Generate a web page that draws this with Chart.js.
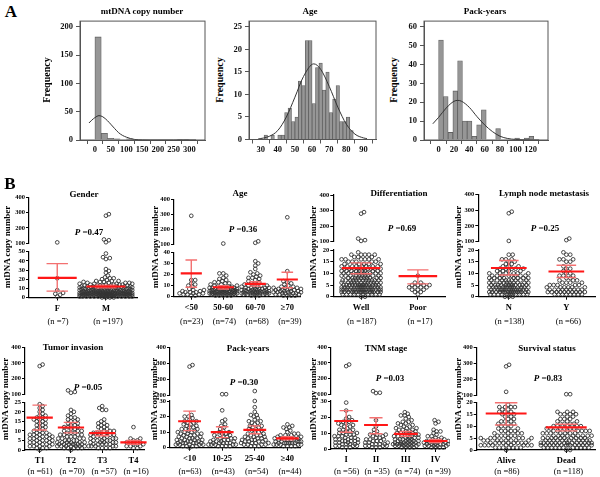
<!DOCTYPE html>
<html>
<head>
<meta charset="utf-8">
<script src="https://cdn.jsdelivr.net/npm/chart.js@4/dist/chart.umd.min.js"></script>
<style>
body { margin: 0; width: 600px; height: 477px; position: relative; background: #fff; overflow: hidden; font-family: "Liberation Serif", "Times New Roman", serif; }
canvas { position: absolute; }
.t { position: absolute; white-space: nowrap; color: #000; transform: translate(-50%, -50%); line-height: 1; }
.b { font-weight: bold; }
.rot { transform: translate(-50%, -50%) rotate(-90deg); }
</style>
</head>
<body>
<script>
// ---- panel A: histograms ----
const mt_bin_start = [0, 20, 40, 60, 80, 100, 120, 140, 160, 180, 200, 220, 240, 260, 280];
const mt_counts = [182, 12, 3, 2, 0, 2, 1, 0, 0, 0, 0, 0, 0, 1, 1];
const mt_curve_x = [-19, -10, 0, 13, 25, 40, 50, 63, 75, 88, 100, 113, 126, 150, 175, 200, 250, 321];
const mt_curve_y = [30, 35, 39.5, 43, 41, 34, 28, 20, 13, 8, 5, 2.5, 1, 0.2, 0, 0, 0, 0];
const mt_x_ticks = [0, 50, 100, 150, 200, 250, 300];
const mt_y_ticks = [0, 50, 100, 150, 200];

const age_bin_start = [32, 34, 36, 38, 40, 42, 44, 46, 48, 50, 52, 54, 56, 58, 60, 62, 64, 66, 68, 70, 72, 74, 76, 78, 80, 82];
const age_counts = [1, 0, 1, 0, 1, 1, 6, 7, 4, 5, 13, 12, 22, 22, 8, 16, 17, 11, 15, 6, 9, 12, 4, 4, 5, 2];
const age_curve_x = [28.5, 35, 40, 45, 50, 55, 61, 65, 70, 75, 80, 85, 90, 92];
const age_curve_y = [0.1, 0.7, 2, 5, 9.4, 14, 16.8, 15.6, 11.8, 7.2, 3.4, 1.2, 0.35, 0.2];
const age_x_ticks = [30, 40, 50, 60, 70, 80, 90];
const age_y_ticks = [0, 5, 10, 15, 20, 25];

const pack_bin_start = [0, 6.2, 12.4, 18.6, 24.8, 31, 37.2, 43.4, 49.6, 55.8, 62, 68.2, 74.4, 80.6, 86.8, 93, 99.2, 105.4, 111.6, 117.8];
const pack_counts = [53, 23, 4, 26, 42, 10, 10, 2, 8, 16, 0, 0, 6, 0, 0, 0, 1, 0, 1, 2];
const pack_curve_x = [-7.5, 0, 10, 20, 25, 30, 40, 50, 60, 70, 80, 90, 100, 110, 131];
const pack_curve_y = [8.6, 12, 17, 20.5, 21, 20.5, 17.3, 12.4, 8, 4.5, 2, 0.8, 0.3, 0.1, 0];
const pack_x_ticks = [0, 20, 40, 60, 80, 100, 120];
const pack_y_ticks = [0, 10, 20, 30, 40, 50, 60];

// ---- panel B: dot plots (single values, or [value, count]) ----
const upper_ticks = [100, 200, 300, 400];

const gender_groups = ['F', 'M'];
const gender_n = ['(n =7)', '(n =197)'];
const gender_mean = [21.5, 12];
const gender_ci_low = [7, 10.5];
const gender_ci_high = [37, 13.5];
const gender_low_ticks = [0, 10, 20, 30, 40, 50];
const gender_dots = [
    [106, 21, 8, 5, 4, 3, 1],
    [290, 280, 125, 120, 107, 48, 44, 43, 42, 31, 29, 27, 24, 22, 21, 21, 20, 19, [18, 3], [17, 3], [16, 4], [15, 4], [14, 5], [13, 6], [12, 7], [11, 7], [10, 8], [9, 9], [8, 10], [7, 11], [6, 12], [5, 16], [4, 18], [3, 20], [2, 18], [1, 14], [0, 4]]
];

const age_groups = ['<50', '50-60', '60-70', '\u226570'];
const age_n = ['(n=23)', '(n=74)', '(n=68)', '(n=39)'];
const age_mean = [21, 8.5, 11.5, 15.5];
const age_ci_low = [8.5, 7, 9.5, 8];
const age_ci_high = [33, 9.8, 13.5, 22];
const age_low_ticks = [0, 10, 20, 30, 40];
const age_dots = [
    [290, 15, 15, 12, 11, 10, 9, 7, 6, 6, 5, 5, 4, 4, 4, 3, 3, 3, 2, 2, 2, 1, 1],
    [105, 21, 21, 19, 17, 16, 15, 14, 13, 13, 12, 12, 11, 11, 10, 10, [9, 4], [8, 5], [7, 6], [6, 6], [5, 7], [4, 8], [3, 9], [2, 8], [1, 5]],
    [120, 110, 32, 30, 28, 25, 22, 21, 20, 19, 18, 17, 17, 16, 15, 14, 13, 12, 12, 11, [10, 3], [9, 3], [8, 4], [7, 4], [6, 5], [5, 6], [4, 7], [3, 7], [2, 6], [1, 3]],
    [280, 23, 14, 13, 12, 11, 10, 9, 9, [8, 3], [7, 3], [6, 4], [5, 4], [4, 4], [3, 4], [2, 4], [1, 4]]
];

const diff_groups = ['Well', 'Poor'];
const diff_n = ['(n =187)', '(n =17)'];
const diff_mean = [12.2, 8.8];
const diff_ci_low = [9.8, 5.5];
const diff_ci_high = [14.5, 11.5];
const diff_low_ticks = [0, 5, 10, 15, 20];
const diff_dots = [
    [290, 280, 120, 110, 105, [19, 1], [18, 5], [17, 3], [16, 6], [15, 5], [14, 5], [13, 8], [12, 10], [11, 9], [10, 10], [9, 10], [8, 10], [7, 12], [6, 12], [5, 14], [4, 16], [3, 18], [2, 16], [1, 10], [0, 2]],
    [9, 6, 6, 5, 5, 5, 5, 4, 4, 4, 4, 3, 3, 3, 2, 2, 1]
];

const lymph_groups = ['N', 'Y'];
const lymph_n = ['(n =138)', '(n =66)'];
const lymph_mean = [12.3, 10.8];
const lymph_ci_low = [9.3, 8.2];
const lymph_ci_high = [15.5, 13.5];
const lymph_low_ticks = [0, 5, 10, 15, 20];
const lymph_dots = [
    [290, 280, 105, [18, 2], [16, 3], [15, 2], [14, 2], [13, 3], [12, 5], [11, 4], [10, 6], [9, 8], [8, 8], [7, 9], [6, 10], [5, 12], [4, 14], [3, 16], [2, 16], [1, 12], [0, 3]],
    [120, 110, 19, [18, 2], [16, 3], [15, 2], [13, 1], [12, 2], [11, 1], [10, 2], [9, 3], [8, 2], [7, 3], [6, 4], [5, 5], [4, 6], [3, 9], [2, 10], [1, 8]]
];

const tumor_groups = ['T1', 'T2', 'T3', 'T4'];
const tumor_n = ['(n =61)', '(n =70)', '(n =57)', '(n =16)'];
const tumor_mean = [17, 11.8, 8.8, 4];
const tumor_ci_low = [10.5, 9, 7.5, 3];
const tumor_ci_high = [23.5, 14.5, 10, 5];
const tumor_low_ticks = [0, 5, 10, 15, 20, 25];
const tumor_dots = [
    [290, 280, 24, 23, 22, 21, 20, 19, [18, 2], [17, 2], [16, 3], [15, 2], [14, 2], [13, 2], [12, 2], [11, 2], [10, 2], [9, 3], [8, 4], [7, 4], [6, 4], [5, 4], [4, 4], [3, 4], [2, 4], [1, 3], [0, 1]],
    [125, 115, 110, 21, 20, 19, 18, [17, 2], [16, 2], [15, 2], [14, 2], [13, 2], [12, 3], [11, 2], [10, 3], [9, 3], [8, 4], [7, 3], [6, 4], [5, 4], [4, 6], [3, 7], [2, 7], [1, 5], [0, 1]],
    [23, 22, 21, 21, 16, 15, [14, 2], [13, 2], [12, 2], [11, 2], [10, 3], [9, 4], [8, 4], [7, 4], [6, 4], [5, 5], [4, 5], [3, 5], [2, 5], [1, 4]],
    [12, 6, 6, 5, 5, 4, 4, 4, 3, 3, 3, 2, 2, 2, 1, 1]
];

const packy_groups = ['<10', '10-25', '25-40', '\u226540'];
const packy_n = ['(n=63)', '(n=43)', '(n=54)', '(n=44)'];
const packy_mean = [17, 10, 11.5, 6];
const packy_ci_low = [11, 6.5, 9, 5];
const packy_ci_high = [23.5, 13.5, 14, 7];
const packy_low_ticks = [0, 10, 20, 30];
const packy_dots = [
    [290, 280, 21, 20, 20, 19, 18, [17, 2], [16, 2], [15, 2], [14, 2], [13, 2], [12, 3], [11, 2], [10, 3], [9, 4], [8, 3], [7, 3], [6, 4], [5, 4], [4, 4], [3, 6], [2, 5], [1, 4], [0, 1]],
    [105, 105, 24, 18, 17, 15, 14, 13, [12, 1], [11, 1], [10, 2], [9, 2], [8, 2], [7, 3], [6, 3], [5, 3], [4, 4], [3, 5], [2, 5], [1, 4]],
    [125, 30, 26, 23, 21, 21, 20, 19, 18, [17, 2], [16, 2], [15, 1], [14, 2], [13, 2], [12, 2], [11, 2], [10, 2], [9, 2], [8, 3], [7, 3], [6, 3], [5, 4], [4, 4], [3, 4], [2, 4], [1, 3]],
    [15, 14, 13, 13, 12, 11, 10, [9, 2], [8, 3], [7, 3], [6, 4], [5, 4], [4, 5], [3, 7], [2, 5], [1, 4]]
];

const tnm_groups = ['I', 'II', 'III', 'IV'];
const tnm_n = ['(n =56)', '(n =35)', '(n =74)', '(n =39)'];
const tnm_mean = [17.5, 15, 9.5, 5];
const tnm_ci_low = [10.5, 9.5, 8, 4];
const tnm_ci_high = [24, 19.5, 11, 6];
const tnm_low_ticks = [0, 10, 20, 30];
const tnm_dots = [
    [290, 280, 29, 24, 20, 19, 18, [17, 2], [16, 2], [15, 2], [14, 2], [13, 1], [12, 3], [11, 2], [10, 3], [9, 3], [8, 3], [7, 3], [6, 4], [5, 4], [4, 4], [3, 4], [2, 4], [1, 3]],
    [120, 110, 108, 18, 14, 12, 11, 10, [9, 3], [8, 2], [7, 2], [6, 3], [5, 3], [4, 3], [3, 4], [2, 4], [1, 3]],
    [23, 22, 21, 21, 20, 19, 18, [17, 2], [16, 2], [15, 2], [14, 2], [13, 3], [12, 3], [11, 3], [10, 3], [9, 4], [8, 5], [7, 4], [6, 5], [5, 5], [4, 6], [3, 8], [2, 6], [1, 4]],
    [18, 17, 16, 12, 11, 11, 10, 9, [8, 2], [7, 2], [6, 3], [5, 4], [4, 5], [3, 6], [2, 5], [1, 4]]
];

const surv_groups = ['Alive', 'Dead'];
const surv_n = ['(n =86)', '(n =118)'];
const surv_mean = [15.3, 9.5];
const surv_ci_low = [10.5, 8];
const surv_ci_high = [19.8, 10.8];
const surv_low_ticks = [0, 5, 10, 15, 20];
const surv_dots = [
    [290, 280, 120, [19, 1], [18, 4], [17, 2], [16, 3], [15, 3], [14, 2], [13, 2], [12, 3], [11, 3], [10, 3], [9, 3], [8, 4], [7, 4], [6, 5], [5, 7], [4, 8], [3, 9], [2, 9], [1, 7], [0, 1]],
    [105, 105, [16, 3], [15, 4], [14, 2], [13, 3], [12, 3], [11, 4], [10, 5], [9, 6], [8, 7], [7, 7], [6, 9], [5, 10], [4, 12], [3, 14], [2, 14], [1, 11], [0, 2]]
];

// ---- layout (pixels) ----
const hist_layout = {
    mt:   {left: 80,  top: 19, right: 205, bottom: 140,   x_min: -19,  x_max: 321, y_max: 210},
    age:  {left: 249, top: 19, right: 376, bottom: 139.5, x_min: 28.5, x_max: 92,  y_max: 26.3},
    pack: {left: 424, top: 19, right: 548, bottom: 140,   x_min: -7.5, x_max: 131, y_max: 63}
};

const dot_layout = {
    gender: {axis_x: 29,    right: 140, y400: 197.3, y100: 243.3, low_top: 251.7, y0: 297.5, x_min: -0.58, x_max: 1.64, half: 0.4,  spread: 27, n_y: 321},
    age:    {axis_x: 174,   right: 303, y400: 199.3, y100: 244.3, low_top: 252.3, y0: 296.7, x_min: -0.54, x_max: 3.4,  half: 0.33, spread: 14, n_y: 321},
    diff:   {axis_x: 333.3, right: 448, y400: 195,   y100: 241.7, low_top: 250,   y0: 296.7, x_min: -0.49, x_max: 1.48, half: 0.34, spread: 20, n_y: 321},
    lymph:  {axis_x: 478.3, right: 598, y400: 194.3, y100: 241.7, low_top: 250,   y0: 296.7, x_min: -0.53, x_max: 1.5,  half: 0.31, spread: 20, n_y: 321},
    tumor:  {axis_x: 25,    right: 147, y400: 347.3, y100: 394.3, low_top: 402.3, y0: 450,   x_min: -0.47, x_max: 3.34, half: 0.42, spread: 14, n_y: 471},
    packy:  {axis_x: 170,   right: 303, y400: 347.7, y100: 395,   low_top: 401,   y0: 447.7, x_min: -0.6,  x_max: 3.39, half: 0.35, spread: 14, n_y: 471},
    tnm:    {axis_x: 331,   right: 448, y400: 347.3, y100: 394.3, low_top: 401,   y0: 449,   x_min: -0.51, x_max: 3.32, half: 0.4,  spread: 13, n_y: 471},
    surv:   {axis_x: 476.7, right: 598, y400: 347.3, y100: 395,   low_top: 402.3, y0: 450,   x_min: -0.49, x_max: 1.48, half: 0.34, spread: 26, n_y: 471}
};

Chart.defaults.font.family = '"Liberation Serif", "Times New Roman", serif';
Chart.defaults.color = '#000';

function make_canvas(left, top, width, height) {
    const c = document.createElement('canvas');
    c.style.left = left + 'px';
    c.style.top = top + 'px';
    c.width = width;
    c.height = height;
    c.style.width = width + 'px';
    c.style.height = height + 'px';
    document.body.appendChild(c);
    return c;
}

function text(html, x, y, size, cls) {
    const d = document.createElement('div');
    d.className = 't ' + (cls || '');
    d.style.left = x + 'px';
    d.style.top = y + 'px';
    d.style.fontSize = size + 'px';
    d.innerHTML = html;
    document.body.appendChild(d);
}

function expand(spec) {
    const out = [];
    spec.forEach(s => {
        if (Array.isArray(s)) { for (let i = 0; i < s[1]; i++) out.push(s[0]); }
        else out.push(s);
    });
    return out;
}

// simple beeswarm: offsets in pixels, values kept as they are
function swarm(values, y_scale, spread) {
    const placed = [];
    const min_d = 3.2, step = 1.0;
    return values.slice().sort((a, b) => a - b).map(v => {
        const py = v * y_scale;
        let best = 0, best_d = -1;
        for (let k = 0; k * step <= spread && best_d < min_d; k++) {
            const cand = k === 0 ? [0] : [k * step, -k * step];
            for (const px of cand) {
                let d = Infinity;
                placed.forEach(p => {
                    if (Math.abs(p.y - py) < min_d) d = Math.min(d, Math.hypot(p.x - px, p.y - py));
                });
                if (d > best_d) { best_d = d; best = px; }
                if (d >= min_d) break;
            }
        }
        placed.push({x: best, y: py});
        return {off: best, v: v};
    });
}

const frame_plugin = {
    id: 'frame',
    afterDraw(chart) {
        const a = chart.chartArea, ctx = chart.ctx;
        ctx.save();
        ctx.strokeStyle = '#555';
        ctx.lineWidth = 1;
        ctx.strokeRect(a.left, a.top, a.right - a.left, a.bottom - a.top);
        ctx.restore();
    }
};

function hist_chart(L, bin_start, counts, curve_x, curve_y, x_ticks, y_ticks) {
    const yW = 22, xH = 16;
    const cl = Math.floor(L.left - yW - 2), ct = Math.floor(L.top - 6);
    const cw = Math.ceil(L.right + 4 - cl), ch = Math.ceil(L.bottom + xH + 2 - ct);
    const w = bin_start[1] - bin_start[0];
    new Chart(make_canvas(cl, ct, cw, ch), {
        type: 'bar',
        data: {
            datasets: [{
                type: 'line',
                data: curve_x.map((x, i) => ({x: x, y: curve_y[i]})),
                borderColor: '#333', borderWidth: 1, pointRadius: 0,
                cubicInterpolationMode: 'monotone', clip: false
            }, {
                type: 'bar',
                data: bin_start.map((b, i) => ({x: b + w / 2, y: counts[i]})),
                backgroundColor: '#969696', borderColor: '#606060', borderWidth: 0.8,
                barPercentage: 1, categoryPercentage: 1
            }]
        },
        options: {
            responsive: false, animation: false, devicePixelRatio: 1,
            layout: {padding: {left: L.left - yW - cl, top: L.top - ct, right: cl + cw - L.right, bottom: ct + ch - L.bottom - xH}},
            plugins: {legend: {display: false}, tooltip: {enabled: false}},
            scales: {
                x: {
                    type: 'linear', min: L.x_min, max: L.x_max,
                    afterBuildTicks: s => { s.ticks = x_ticks.map(v => ({value: v})); },
                    afterFit: s => { s.height = xH; s.paddingLeft = 0; s.paddingRight = 0; },
                    grid: {drawOnChartArea: false, tickLength: 4, color: '#555'},
                    border: {color: '#555'},
                    ticks: {font: {size: 8.5, weight: 'bold'}, color: '#111', padding: 1, maxRotation: 0, autoSkip: false}
                },
                y: {
                    type: 'linear', min: 0, max: L.y_max,
                    afterBuildTicks: s => { s.ticks = y_ticks.map(v => ({value: v})); },
                    afterFit: s => { s.width = yW; },
                    grid: {drawOnChartArea: false, tickLength: 4, color: '#555'},
                    border: {color: '#555'},
                    ticks: {font: {size: 8.5, weight: 'bold'}, color: '#111', padding: 3, autoSkip: false}
                }
            }
        },
        plugins: [frame_plugin]
    });
}

function dot_options(L, y_min, y_max, y_ticks, show_x, groups, pad) {
    return {
        responsive: false, animation: false, devicePixelRatio: 1,
        layout: {padding: pad},
        plugins: {legend: {display: false}, tooltip: {enabled: false}},
        scales: {
            x: {
                type: 'linear', min: L.x_min, max: L.x_max, display: show_x,
                afterBuildTicks: s => { s.ticks = groups.map((g, i) => ({value: i})); },
                afterFit: s => { s.height = show_x ? 14 : 0; s.paddingLeft = 0; s.paddingRight = 0; },
                grid: {drawOnChartArea: false, tickLength: 3, color: '#000'},
                border: {color: '#000', width: 1.2},
                ticks: {font: {size: 8.5, weight: 'bold'}, padding: 3, maxRotation: 0, autoSkip: false,
                        callback: v => groups[Math.round(v)]}
            },
            y: {
                type: 'linear', min: y_min, max: y_max,
                afterBuildTicks: s => { s.ticks = y_ticks.map(v => ({value: v})); },
                afterFit: s => { s.width = 22; },
                grid: {drawOnChartArea: false, tickLength: 3, color: '#000'},
                border: {color: '#000', width: 1.2},
                ticks: {font: {size: 6.5, weight: 'bold'}, padding: 1, autoSkip: false}
            }
        }
    };
}

function dot_panel(L, groups, n_labels, means, ci_low, ci_high, dots, low_ticks) {
    const yW = 22, xH = 14;
    const spacing = (L.right - L.axis_x) / (L.x_max - L.x_min);
    const low_max = low_ticks[low_ticks.length - 1];
    const up_scale = (L.y100 - L.y400) / 300;
    const low_scale = (L.y0 - L.low_top) / low_max;
    const up_pts = [], low_pts = [];
    dots.forEach((spec, i) => {
        const vals = expand(spec);
        swarm(vals.filter(v => v >= 100), up_scale, L.spread).forEach(p => up_pts.push({x: i + p.off / spacing, y: p.v}));
        swarm(vals.filter(v => v <= low_max), low_scale, L.spread).forEach(p => low_pts.push({x: i + p.off / spacing, y: p.v}));
    });

    const mean_line = [], err_line = [];
    const cap = L.half * 0.55;
    groups.forEach((g, i) => {
        mean_line.push({x: i - L.half, y: means[i]}, {x: i + L.half, y: means[i]}, {x: i + L.half, y: null});
        err_line.push({x: i, y: ci_low[i]}, {x: i, y: ci_high[i]}, {x: i, y: null});
        err_line.push({x: i - cap, y: ci_high[i]}, {x: i + cap, y: ci_high[i]}, {x: i + cap, y: null});
        err_line.push({x: i - cap, y: ci_low[i]}, {x: i + cap, y: ci_low[i]}, {x: i + cap, y: null});
    });

    const dot_style = {pointRadius: 1.85, pointBorderWidth: 0.9, pointBorderColor: '#333', pointBackgroundColor: 'rgba(0,0,0,0)', showLine: false, clip: false};

    // upper segment 100-400
    const ul = Math.floor(L.axis_x - yW - 2), ut = Math.floor(L.y400 - 6);
    const uw = Math.ceil(L.right + 2 - ul), uh = Math.ceil(L.y100 + 6 - ut);
    new Chart(make_canvas(ul, ut, uw, uh), {
        type: 'scatter',
        data: {datasets: [Object.assign({data: up_pts}, dot_style)]},
        options: dot_options(L, 100, 400, upper_ticks, false, groups,
            {left: L.axis_x - yW - ul, top: L.y400 - ut, right: ul + uw - L.right, bottom: ut + uh - L.y100})
    });

    // lower segment 0-max
    const ll = ul, lt = Math.floor(L.low_top - 6);
    const lw = uw, lh = Math.ceil(L.y0 + xH + 2 - lt);
    new Chart(make_canvas(ll, lt, lw, lh), {
        type: 'scatter',
        data: {
            datasets: [
                {data: mean_line, showLine: true, spanGaps: false, borderColor: '#ff1717', borderWidth: 2.2, pointRadius: 0, clip: false},
                {data: err_line, showLine: true, spanGaps: false, borderColor: '#f37070', borderWidth: 1.4, pointRadius: 0, clip: false},
                Object.assign({data: low_pts}, dot_style)
            ]
        },
        options: dot_options(L, 0, low_max, low_ticks, true, groups,
            {left: L.axis_x - yW - ll, top: L.low_top - lt, right: ll + lw - L.right, bottom: lt + lh - L.y0 - xH})
    });

    n_labels.forEach((t, i) => text(t, L.axis_x + (i - L.x_min) * spacing, L.n_y, 8.5));
}

// ---- draw ----
hist_chart(hist_layout.mt, mt_bin_start, mt_counts, mt_curve_x, mt_curve_y, mt_x_ticks, mt_y_ticks);
hist_chart(hist_layout.age, age_bin_start, age_counts, age_curve_x, age_curve_y, age_x_ticks, age_y_ticks);
hist_chart(hist_layout.pack, pack_bin_start, pack_counts, pack_curve_x, pack_curve_y, pack_x_ticks, pack_y_ticks);

dot_panel(dot_layout.gender, gender_groups, gender_n, gender_mean, gender_ci_low, gender_ci_high, gender_dots, gender_low_ticks);
dot_panel(dot_layout.age, age_groups, age_n, age_mean, age_ci_low, age_ci_high, age_dots, age_low_ticks);
dot_panel(dot_layout.diff, diff_groups, diff_n, diff_mean, diff_ci_low, diff_ci_high, diff_dots, diff_low_ticks);
dot_panel(dot_layout.lymph, lymph_groups, lymph_n, lymph_mean, lymph_ci_low, lymph_ci_high, lymph_dots, lymph_low_ticks);
dot_panel(dot_layout.tumor, tumor_groups, tumor_n, tumor_mean, tumor_ci_low, tumor_ci_high, tumor_dots, tumor_low_ticks);
dot_panel(dot_layout.packy, packy_groups, packy_n, packy_mean, packy_ci_low, packy_ci_high, packy_dots, packy_low_ticks);
dot_panel(dot_layout.tnm, tnm_groups, tnm_n, tnm_mean, tnm_ci_low, tnm_ci_high, tnm_dots, tnm_low_ticks);
dot_panel(dot_layout.surv, surv_groups, surv_n, surv_mean, surv_ci_low, surv_ci_high, surv_dots, surv_low_ticks);

// texts
text('A', 11, 11, 17, 'b');
text('B', 10, 183, 17, 'b');
text('mtDNA copy number', 142, 11, 9, 'b');
text('Age', 310, 11, 9, 'b');
text('Pack-years', 485, 11, 9, 'b');
text('Frequency', 47, 80, 10, 'b rot');
text('Frequency', 220, 80, 10, 'b rot');
text('Frequency', 394, 80, 10, 'b rot');

text('Gender', 84, 194, 9, 'b');
text('Age', 240, 193, 9, 'b');
text('Differentiation', 399, 193, 9, 'b');
text('Lymph node metastasis', 544, 193, 9, 'b');
text('Tumor invasion', 73, 347, 9, 'b');
text('Pack-years', 248, 348, 9, 'b');
text('TNM stage', 386, 348, 9, 'b');
text('Survival status', 547, 348, 9, 'b');

text('<i>P</i> =0.47', 89, 232, 9, 'b');
text('<i>P</i> =0.36', 243, 229, 9, 'b');
text('<i>P</i> =0.69', 402, 228, 9, 'b');
text('<i>P</i> =0.25', 545, 228, 9, 'b');
text('<i>P</i> =0.05', 88, 387, 9, 'b');
text('<i>P</i> =0.30', 244, 382, 9, 'b');
text('<i>P</i> =0.03', 390, 378, 9, 'b');
text('<i>P</i> =0.83', 548, 378, 9, 'b');

[7, 155, 313, 458].forEach(x => text('mtDNA copy number', x, 247, 9, 'b rot'));
[5, 154, 313, 458].forEach(x => text('mtDNA copy number', x, 399, 9, 'b rot'));
</script>
</body>
</html>
